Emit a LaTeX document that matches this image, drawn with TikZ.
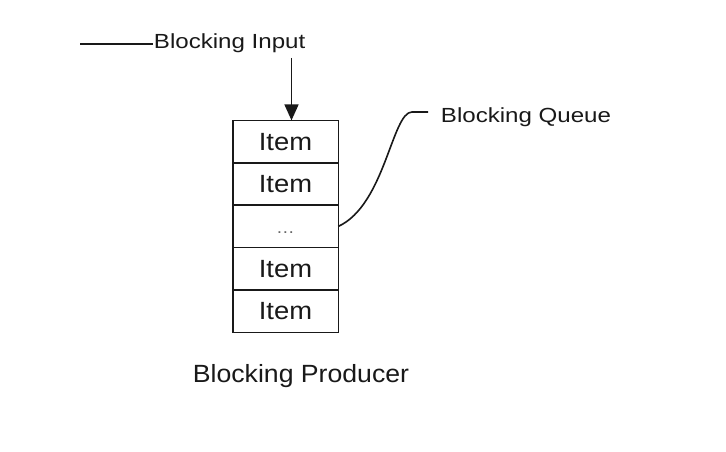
\documentclass[tikz,border=0pt]{standalone}
\usepackage{fontspec}
\setmainfont{Liberation Sans}
\usetikzlibrary{arrows.meta, positioning, calc}
\tikzset{
x=1bp, y=-1bp,
>={Triangle[width=14bp,length=16bp]},
cell/.style={%
    rectangle,
    draw=black!90,
    minimum width=96bp,
    minimum height=42.4bp,
    inner sep=0pt, outer sep=0pt,
    xscale=1.1, transform shape,
    font=\fontsize{25}{30}\selectfont
},
lbl/.style={%
    inner sep=0pt, anchor=base west,
    xscale=1.18, transform shape,
    font=\fontsize{20.5}{24}\selectfont
},
caption/.style={%
    lbl, xscale=1.07/1.18,
    font=\fontsize{25}{30}\selectfont
},
}

\begin{document}
\begin{tikzpicture}[line width=1.6bp, draw=black!90, text=black!90]
	\useasboundingbox[fill=white] (0,0) rectangle (726,452);
	% the queue
	\node[cell] (c1) at (285.5,141.6) {Item};
	\node[cell, below=0pt of c1] (c2) {Item};
	\node[cell, below=0pt of c2, font=\fontsize{17}{20}\selectfont, text=black!60, text height=15bp] (c3) {\dots};
	\node[cell, below=0pt of c3] (c4) {Item};
	\node[cell, below=0pt of c4] (c5) {Item};
	% labels
	\node[lbl] (input) at (153,49) {Blocking Input};
	\node[lbl] (queue) at (440,123) {Blocking Queue};
	\node[caption] (producer) at (192,382) {Blocking Producer};
	\coordinate[left=73bp of input.west] (inlead);
	\coordinate (arrtop) at (291.5,58);
	\coordinate (qbend) at (412,112);

	\draw (inlead) -- (input.west);
	\draw[->] (arrtop) -- (arrtop |- c1.north);
	\draw (c3.east) .. controls (385,205) and (392,112) .. (qbend) -- (428,112);
\end{tikzpicture}
\end{document}
